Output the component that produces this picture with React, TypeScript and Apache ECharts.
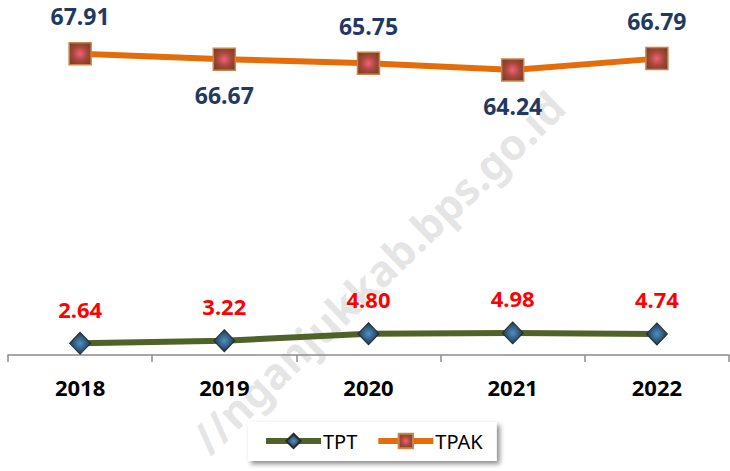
import React, { useEffect, useRef } from "react";
import * as echarts from "echarts";

const years = ["2018", "2019", "2020", "2021", "2022"];
const tptValues = [2.64, 3.22, 4.8, 4.98, 4.74];
const tpakValues = [67.91, 66.67, 65.75, 64.24, 66.79];
const watermarkText = "//nganjukkab.bps.go.id";

export default function App() {
  const ref = useRef<HTMLDivElement>(null);
  useEffect(() => {
    if (!ref.current) return;
    const chart = echarts.init(ref.current, undefined, { renderer: "svg" });
    const font = "'Noto Sans', 'Open Sans', sans-serif";
    const tpakMarker = {
      type: "radial",
      x: 0.5,
      y: 0.5,
      r: 0.7,
      colorStops: [
        { offset: 0, color: "#f2607c" },
        { offset: 0.45, color: "#a8483a" },
        { offset: 1, color: "#6e3a22" },
      ],
    };
    const tptMarker = {
      type: "radial",
      x: 0.5,
      y: 0.5,
      r: 0.6,
      colorStops: [
        { offset: 0, color: "#4f8fc6" },
        { offset: 0.55, color: "#2b5575" },
        { offset: 1, color: "#1a2a30" },
      ],
    };
    chart.setOption({
      animation: false,
      backgroundColor: "#ffffff",
      grid: { left: 8, right: 1, top: 0, bottom: 116, containLabel: false },
      graphic: [
        {
          type: "text",
          x: 378,
          y: 272,
          rotation: (44 * Math.PI) / 180,
          z: 0,
          silent: true,
          style: {
            text: watermarkText,
            fontSize: 43,
            fontWeight: "bold",
            fontFamily: font,
            fill: "rgba(180,180,180,0.35)",
            align: "center",
            verticalAlign: "middle",
          },
        },
      ],
      xAxis: {
        type: "category",
        data: years,
        boundaryGap: true,
        axisLine: { show: true, lineStyle: { color: "#8c8c8c", width: 1.5 } },
        axisTick: { show: true, length: 7, lineStyle: { color: "#8c8c8c", width: 1.5 } },
        axisLabel: {
          margin: 21,
          color: "#000",
          fontSize: 22,
          fontWeight: "bold",
          fontFamily: font,
        },
        splitLine: { show: false },
      },
      yAxis: {
        type: "value",
        show: false,
        min: 0,
        max: 80,
        splitLine: { show: false },
      },
      legend: {
        data: ["TPT", "TPAK"],
        left: 248,
        top: 422,
        padding: [9, 14, 10, 15],
        backgroundColor: "#ffffff",
        shadowColor: "rgba(0,0,0,0.45)",
        shadowBlur: 5,
        shadowOffsetX: 3,
        shadowOffsetY: 3,
        itemWidth: 55,
        itemHeight: 18,
        itemGap: 18,
        textStyle: { fontSize: 20, color: "#000", fontFamily: font, padding: [0, 0, 0, -3] },
        lineStyle: { width: 6 },
      },
      series: [
        {
          name: "TPT",
          type: "line",
          data: tptValues,
          symbol: "diamond",
          symbolSize: [21, 22],
          lineStyle: { color: "#4F6228", width: 6 },
          itemStyle: { color: tptMarker, borderColor: "#2a2a2a", borderWidth: 1 },
          label: {
            show: true,
            position: "top",
            distance: 12,
            color: "#FF0000",
            fontSize: 22,
            fontWeight: "bold",
            fontFamily: font,
            formatter: (p: any) => Number(p.value).toFixed(2),
          },
          z: 3,
        },
        {
          name: "TPAK",
          type: "line",
          data: tpakValues.map((v, i) => ({
            value: v,
            label: { position: i % 2 === 0 ? "top" : "bottom", distance: i % 2 === 0 ? 14 : 13 },
          })),
          symbol: "rect",
          symbolSize: 22,
          lineStyle: { color: "#E46C0A", width: 6 },
          itemStyle: { color: tpakMarker, borderColor: "#c8864a", borderWidth: 1.5 },
          label: {
            show: true,
            color: "#1F3864",
            fontSize: 23,
            fontWeight: "bold",
            fontFamily: font,
            formatter: (p: any) => Number(p.value).toFixed(2),
          },
          z: 3,
        },
      ],
    });
    return () => chart.dispose();
  }, []);
  return (
    <div
      ref={ref}
      style={{ position: "fixed", left: 0, top: 0, width: 730, height: 471 }}
    />
  );
}
